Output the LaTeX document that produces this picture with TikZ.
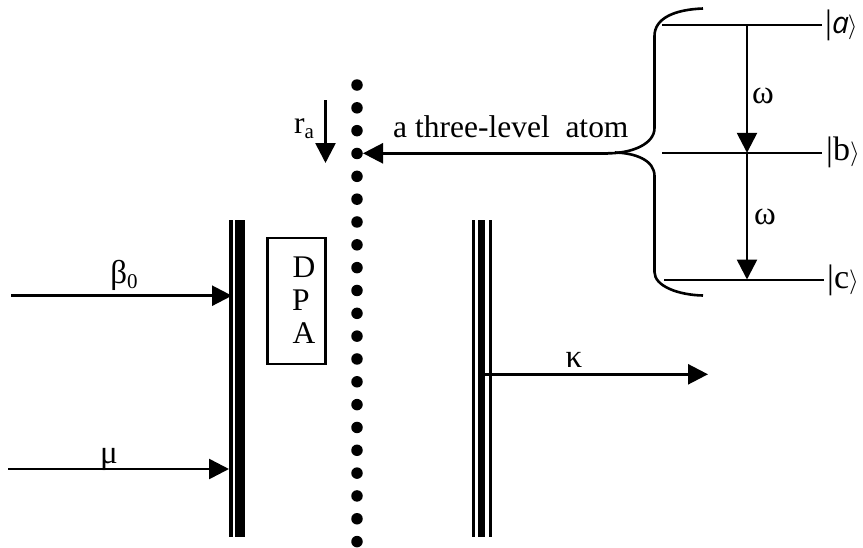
\documentclass[tikz,border=0pt]{standalone}
\usepackage{fontspec}
\setmainfont{Liberation Serif}
\newfontfamily\ketfont{Open Sans}
\usetikzlibrary{arrows.meta}
\tikzset{
 conn/.style={line width=2.6pt,black},
 arrowed/.style={conn,-{Triangle[length=20pt,width=20pt]},shorten >=0pt},
 lab/.style={inner sep=0pt,font=\fontsize{31.5}{31.5}\selectfont,anchor=base},
 greek/.style={lab,font=\fontsize{33}{33}\selectfont},
 ket/.style={lab,anchor=base west,font=\fontsize{34}{34}\selectfont},
 atomdot/.style={circle,fill=black,inner sep=0pt,minimum size=11.5pt},
 mirrorbar/.style={fill=black,draw=none},
}
\begin{document}
\begin{tikzpicture}[x=1pt,y=-1pt]
\useasboundingbox (0,0) rectangle (863,547);
% mirrors
\fill[mirrorbar] (229,220) rectangle (232.5,537);
\fill[mirrorbar] (235,220) rectangle (244.5,537);
\fill[mirrorbar] (471.5,220) rectangle (475,537);
\fill[mirrorbar] (478,220) rectangle (485,537);
\fill[mirrorbar] (488.5,220) rectangle (492,537);
% DPA
\node[draw,line width=2.6pt,minimum width=58pt,minimum height=126pt,inner sep=0pt] (dpa) at (296.7,300.8) {};
\node[lab] (tD) at (304,277) {D};
\node[lab] (tP) at (301,310) {P};
\node[lab] (tA) at (304,343) {A};
% dots
\foreach \k in {0,...,20} \node[atomdot] (d\k) at (357,85+22.83*\k) {};
% coordinates
\coordinate (bs) at (11,295.7); \coordinate (be) at (232,295.7);
\coordinate (ms) at (8,469); \coordinate (me) at (229,469);
\coordinate (ks) at (485,374.3); \coordinate (ke) at (708,374.3);
\coordinate (rs) at (325.5,100); \coordinate (re) at (325.5,163);
\coordinate (as) at (608,153.3); \coordinate (ae) at (363,153.3);
\coordinate (la1) at (662,25); \coordinate (la2) at (822,25);
\coordinate (lb1) at (662,152.8); \coordinate (lb2) at (822,152.8);
\coordinate (lc1) at (664,280); \coordinate (lc2) at (824,280);
\coordinate (va) at (747,25); \coordinate (vb) at (747,152.8); \coordinate (vc) at (747,279.5);
% arrows
\draw[arrowed] (bs) -- (be);
\draw[arrowed] (ms) -- (me);
\draw[arrowed] (ks) -- (ke);
\draw[arrowed] (rs) -- (re);
\draw[arrowed] (as) -- (ae);
\draw[conn] (la1) -- (la2);
\draw[conn] (lb1) -- (lb2);
\draw[conn] (lc1) -- (lc2);
\draw[arrowed] (va) -- (vb);
\draw[arrowed] (vb) -- (vc);
% brace
\draw[conn] (703,8.5) .. controls (675,9.5) and (654.5,18) .. (654.5,36) -- (654.5,128) .. controls (654.5,144) and (632,153.3) .. (608,153.3);
\draw[conn] (615,152.5) .. controls (635,153) and (654.5,160) .. (654.5,176) -- (654.5,272) .. controls (654.5,286) and (678,295) .. (703,295.5);
% labels
\node[greek] (tbeta) at (124,283) {β\raisebox{-5pt}{\fontsize{21}{21}\selectfont 0}};
\node[greek] (tmu) at (109,463) {μ};
\node[greek] (tkappa) at (574,367) {κ};
\node[lab,anchor=base west] (tr) at (294,133) {r\raisebox{-5pt}{\fontsize{21}{21}\selectfont a}};
\node[lab,anchor=base west] (tatom) at (393,137) {a three-level\ \ atom};
\node[greek] (tw1) at (763,103) {ω};
\node[greek] (tw2) at (765,224) {ω};
\node[ket] (ka) at (825,33) {|{\ketfont\itshape\fontsize{30}{30}\selectfont a}\kern-1pt$\rangle$};
\node[ket] (kb) at (826,160) {|b$\rangle$};
\node[ket] (kc) at (827,288) {|c$\rangle$};
\end{tikzpicture}
\end{document}
